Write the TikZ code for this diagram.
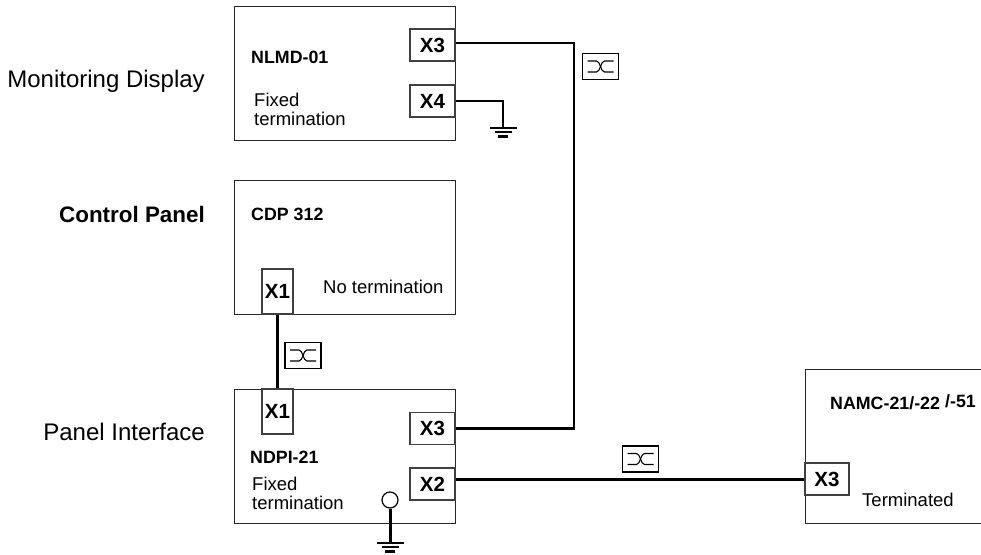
\documentclass[tikz,border=0pt]{standalone}
\usepackage{fontspec}
\setmainfont{Liberation Sans}
\usetikzlibrary{positioning}
\tikzset{
  unitbox/.style={rectangle, draw=black!85, line width=1.1pt, fill=white, anchor=north west, inner sep=0pt},
  portbox/.style={rectangle, draw=black!75, line width=1.1pt, fill=white, inner sep=0pt, font=\fontsize{20.5}{20}\selectfont\bfseries},
  unitname/.style={anchor=base west, inner sep=0pt, font=\fontsize{17.8}{18}\selectfont\bfseries},
  side/.style={anchor=base east, inner sep=0pt, font=\fontsize{24}{24}\selectfont},
  note/.style={anchor=base west, inner sep=0pt, font=\fontsize{18.5}{19}\selectfont},
  notetwo/.style={anchor=west, inner sep=0pt, align=left, font=\fontsize{18.5}{19}\selectfont},
  wire/.style={line width=2.2pt, black},
  heavywire/.style={line width=3pt, black},
  busbox/.style={rectangle, draw=black, line width=1.8pt, fill=white, minimum width=36pt, minimum height=26pt, inner sep=0pt},
}
% cable symbol drawn inside a bus box
\newcommand{\cablemark}[1]{
  \draw[line width=1.1pt] ([xshift=-13pt,yshift=5.5pt]#1.center) -- ++(9pt,0) .. controls +(4pt,0) and +(-4pt,0) .. ++(8pt,-11pt) -- ++(9pt,0);
  \draw[line width=1.1pt] ([xshift=-13pt,yshift=-5.5pt]#1.center) -- ++(9pt,0) .. controls +(4pt,0) and +(-4pt,0) .. ++(8pt,11pt) -- ++(9pt,0);
}
% ground symbol below a coordinate
\newcommand{\groundmark}[1]{
  \draw[line width=2pt] ([xshift=-13.5pt]#1) -- ++(27pt,0);
  \draw[line width=2pt] ([xshift=-8.5pt,yshift=-4pt]#1) -- ++(17pt,0);
  \draw[line width=2.6pt] ([xshift=-5pt,yshift=-8.5pt]#1) -- ++(10pt,0);
}
\begin{document}
\begin{tikzpicture}[x=1pt,y=-1pt]
  \useasboundingbox (0,0) rectangle (981,554);

  % Units
  \node[unitbox, minimum width=221pt, minimum height=134pt] at (234,6) (nlmd) {};
  \node[unitbox, minimum width=221pt, minimum height=134pt] at (234,180) (cdp) {};
  \node[unitbox, minimum width=221pt, minimum height=134pt] at (234,389) (ndpi) {};
  \node[unitbox, minimum width=187pt, minimum height=154pt] at (805,369) (namc) {};

  % Ports
  \node[portbox, minimum width=45pt, minimum height=32pt] at (432.5,45) (nlmdx3) {X3};
  \node[portbox, minimum width=45pt, minimum height=32pt] at (432.5,101) (nlmdx4) {X4};
  \node[portbox, minimum width=31pt, minimum height=45pt] at (277.5,291.5) (cdpx1) {X1};
  \node[portbox, minimum width=31pt, minimum height=45pt] at (277.5,411.5) (ndpix1) {X1};
  \node[portbox, minimum width=45pt, minimum height=32pt] at (432.5,428.5) (ndpix3) {X3};
  \node[portbox, minimum width=45pt, minimum height=32pt] at (432.5,484) (ndpix2) {X2};
  \node[portbox, minimum width=44pt, minimum height=32pt] at (827,479) (namcx3) {X3};

  % Labels
  \node[side] at (205,87) (mon) {Monitoring Display};
  \node[side, font=\fontsize{22.4}{24}\selectfont\bfseries] at (205,222) (ctl) {Control Panel};
  \node[side] at (205,440) (pan) {Panel Interface};
  \node[unitname] at (251,63) (nlmdname) {NLMD-01};
  \node[unitname] at (251,220) (cdpname) {CDP 312};
  \node[unitname] at (250,463) (ndpiname) {NDPI-21};
  \node[unitname] at (830,409) (namcname) {NAMC-21/-22};
  \node[unitname] at (945,407) (namcext) {/-51};
  \node[notetwo] at (254,109.5) (nlmdnote) {Fixed\\termination};
  \node[note] at (323,293) (cdpnote) {No termination};
  \node[notetwo] at (252,493) (ndpinote) {Fixed\\termination};
  \node[note] at (862,506) (namcnote) {Terminated};

  % Wires
  \coordinate (gndone) at (503,128);
  \coordinate (gndtwo) at (390,543);
  \coordinate (busturn) at (574,43);
  \node[circle, draw=black, line width=1.2pt, fill=white, minimum size=16pt, inner sep=0pt] at (390,500) (shield) {};
  \draw[wire] ([yshift=2pt]nlmdx3.east) -- (busturn) |- (ndpix3.east);
  \draw[wire] (nlmdx4.east) -| (gndone);
  \draw[heavywire] (cdpx1.south) -- (ndpix1.north);
  \draw[heavywire] ([yshift=5pt]ndpix2.east) -- (namcx3.west);
  \draw[heavywire] (shield) -- (gndtwo);
  \groundmark{gndone}
  \groundmark{gndtwo}

  % Cable marks
  \node[busbox] at (600.5,66.5) (busa) {};
  \node[busbox] at (303,355.5) (busb) {};
  \node[busbox] at (640.5,459) (busc) {};
  \cablemark{busa}
  \cablemark{busb}
  \cablemark{busc}
\end{tikzpicture}
\end{document}
